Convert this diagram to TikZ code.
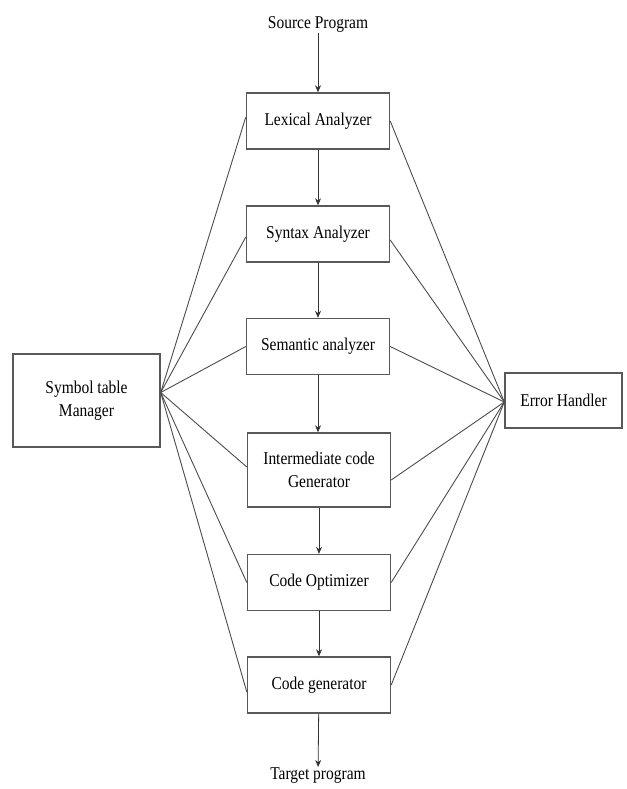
\documentclass[tikz,border=0pt]{standalone}
\usepackage{fontspec}
\setmainfont{Liberation Serif}[FakeStretch=0.86]
\usetikzlibrary{arrows.meta,positioning,calc}
\begin{document}
\begin{tikzpicture}[x=1pt,y=-1pt,
  stage/.style={draw=black!65,line width=1.4pt,minimum width=143pt,minimum height=56pt,inner sep=2pt,align=center,font=\fontsize{18}{23}\selectfont},
  side/.style={draw=black!65,line width=1.4pt,align=center,inner sep=2pt,font=\fontsize{18}{23}\selectfont},
  plain/.style={inner sep=1pt,font=\fontsize{18}{23}\selectfont},
  flow/.style={draw=black!80,line width=0.8pt,-{Stealth[length=7pt,width=6pt]}},
  link/.style={draw=black!70,line width=0.9pt}]
\useasboundingbox (0,0) rectangle (626,789);
\node[plain] (src) at (318,24) {Source Program};
\node[stage] (lex) at (318,121) {Lexical Analyzer};
\node[stage] (syn) at (318,234) {Syntax Analyzer};
\node[stage] (sem) at (318,346.5) {Semantic analyzer};
\node[stage,minimum height=74pt] (icg) at (319,470) {Intermediate code\\Generator};
\node[stage] (opt) at (319,582.5) {Code Optimizer};
\node[stage] (gen) at (319,685) {Code generator};
\node[plain] (tgt) at (318,776) {Target program};
\node[side,minimum width=147pt,minimum height=93pt] (sym) at (86.5,400.5) {Symbol table\\Manager};
\node[side,minimum width=117pt,minimum height=55pt] (err) at (563.5,400.5) {Error Handler};
\coordinate (sp) at ($(sym.east)+(0,-8)$);
\coordinate (ep) at ($(err.west)+(0,1.5)$);
\draw[flow] (src) -- (src |- lex.north);
\draw[flow] (lex) -- (syn);
\draw[flow] (syn) -- (sem);
\draw[flow] (sem) -- (sem |- icg.north);
\draw[flow] (icg) -- (opt);
\draw[flow] (opt) -- (gen);
\draw[flow] (gen) -- (tgt);
\draw[link] (sp) -- ($(lex.west)+(0,-4)$);
\draw[link] (sp) -- ($(syn.west)+(0,3)$);
\draw[link] (sp) -- (sem.west);
\draw[link] (sp) -- ($(icg.west)+(0,-3)$);
\draw[link] (sp) -- (opt.west);
\draw[link] (sp) -- ($(gen.west)+(0,7)$);
\draw[link] (ep) -- (lex.east);
\draw[link] (ep) -- ($(syn.east)+(0,6)$);
\draw[link] (ep) -- (sem.east);
\draw[link] (ep) -- ($(icg.east)+(0,10)$);
\draw[link] (ep) -- (opt.east);
\draw[link] (ep) -- (gen.east);
\end{tikzpicture}
\end{document}
